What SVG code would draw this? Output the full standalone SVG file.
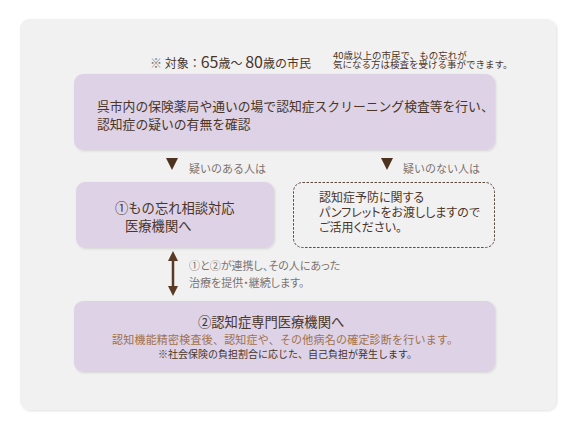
<svg xmlns="http://www.w3.org/2000/svg" width="574" height="428" viewBox="0 0 574 428">
<style>
text{font-family:"Noto Sans CJK JP","Noto Sans",sans-serif;}
.p{font-feature-settings:"palt";}
.box{fill:#ddd2e6;}
.dark{fill:#4a3528;}
.gray{fill:#7a7370;}
.brown{fill:#a2714a;}
.tri{fill:#4e3220;}
</style>
<defs>
<filter id="sh" x="-5%" y="-5%" width="110%" height="115%">
<feDropShadow dx="1" dy="1" stdDeviation="1.2" flood-color="#000" flood-opacity="0.12"/>
</filter>
<marker id="ah" viewBox="0 0 10 10" refX="5" refY="5" markerWidth="4" markerHeight="4" orient="auto-start-reverse">
<path d="M0,0 L10,5 L0,10 z" fill="#5a3a24"/>
</marker>
</defs>
<rect x="0" y="0" width="574" height="428" fill="#ffffff"/>
<rect x="20" y="19" width="536" height="391" rx="9" fill="#f2f1f2" filter="url(#sh)"/>

<g id="header">
<text x="150" y="68" font-size="12"><tspan class="gray">※ </tspan><tspan class="dark">対象：</tspan><tspan class="dark" font-size="16">65</tspan><tspan class="dark">歳～ </tspan><tspan class="dark" font-size="16">80</tspan><tspan class="dark">歳の市民</tspan></text>
<text x="333" y="59" font-size="9.5" class="dark">40歳以上の市民で、もの忘れが</text>
<text x="333" y="68" font-size="9.5" class="dark">気になる方は検査を受ける事ができます。</text>
</g>

<g id="screening">
<rect class="box" x="74" y="74" width="421" height="76" rx="9" filter="url(#sh)"/>
<text x="97" y="111" font-size="12.8" class="dark">呉市内の保険薬局や通いの場で認知症スクリーニング検査等を行い、</text>
<text x="97" y="129" font-size="12.8" class="dark">認知症の疑いの有無を確認</text>
</g>

<g id="connectors">
<polygon class="tri" points="166,158 178,158 172,170"/>
<polygon class="tri" points="381,158 393,158 387,170"/>
<line x1="173" y1="256" x2="173" y2="291" stroke="#5a3a24" stroke-width="2.5" marker-start="url(#ah)" marker-end="url(#ah)"/>
</g>

<g id="labels">
<text x="189" y="173" font-size="11" class="gray">疑いのある人は</text>
<text x="403" y="173" font-size="11" class="gray">疑いのない人は</text>
<text x="189" y="270" font-size="11" class="gray p">①と②が連携し、その人にあった</text>
<text x="189" y="287" font-size="11" class="gray p">治療を提供・継続します。</text>
</g>

<g id="consult">
<rect class="box" x="76" y="182" width="198" height="66" rx="9" filter="url(#sh)"/>
<text x="115" y="213" font-size="13.3" class="dark">①もの忘れ相談対応</text>
<text x="125" y="231" font-size="13.3" class="dark">医療機関へ</text>
</g>

<g id="pamphlet">
<rect x="293.5" y="182.5" width="201" height="65" rx="9" fill="none" stroke="#5a4a3e" stroke-width="1" stroke-dasharray="2.5,1.5"/>
<text x="319" y="202" font-size="12" class="dark p">認知症予防に関する</text>
<text x="319" y="217" font-size="12" class="dark p">パンフレットをお渡ししますので</text>
<text x="319" y="232" font-size="12" class="dark p">ご活用ください。</text>
</g>

<g id="specialist">
<rect class="box" x="74" y="301" width="421" height="71" rx="9" filter="url(#sh)"/>
<text x="198" y="327" font-size="13.3" class="dark">②認知症専門医療機関へ</text>
<text x="112" y="344" font-size="11" class="brown" textLength="346" lengthAdjust="spacing">認知機能精密検査後、認知症や、その他病名の確定診断を行います。</text>
<text x="158" y="358" font-size="10" class="dark">※社会保険の負担割合に応じた、自己負担が発生します。</text>
</g>
</svg>
